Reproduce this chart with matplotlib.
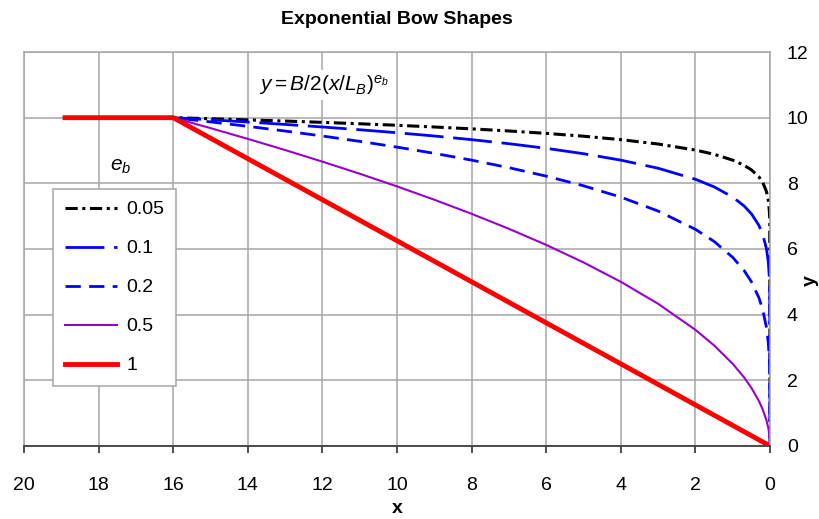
import matplotlib
matplotlib.use("Agg")
import matplotlib.pyplot as plt

plt.rcParams["font.family"] = ["Liberation Sans", "DejaVu Sans"]
plt.rcParams["mathtext.fontset"] = "custom"
plt.rcParams["mathtext.rm"] = "Liberation Sans"
plt.rcParams["mathtext.it"] = "Liberation Sans:italic"

# x positions (same for every curve)
x = [18.9, 16, 15, 14, 13, 12, 11, 10, 9, 8, 7, 6, 5, 4, 3, 2, 1.5, 1,
     0.7, 0.5, 0.3, 0.2, 0.1, 0.05, 0.02, 0.01, 0]

# y values for each exponent e_b
y_005 = [10, 10, 9.968, 9.933, 9.897, 9.857, 9.814, 9.768, 9.716, 9.659,
         9.595, 9.521, 9.435, 9.330, 9.197, 9.013, 8.884, 8.706, 8.552,
         8.409, 8.197, 8.032, 7.759, 7.495, 7.159, 6.915, 0]
y_01 = [10, 10, 9.936, 9.867, 9.794, 9.716, 9.632, 9.541, 9.441, 9.330,
        9.207, 9.066, 8.902, 8.706, 8.459, 8.123, 7.892, 7.579, 7.313,
        7.071, 6.719, 6.452, 6.020, 5.617, 5.125, 4.782, 0]
y_02 = [10, 10, 9.872, 9.736, 9.593, 9.441, 9.278, 9.103, 8.913, 8.706,
        8.476, 8.219, 7.925, 7.579, 7.155, 6.598, 6.229, 5.743, 5.348,
        5.000, 4.514, 4.163, 3.624, 3.155, 2.627, 2.287, 0]
y_05 = [10, 10, 9.682, 9.354, 9.014, 8.660, 8.292, 7.906, 7.5, 7.071,
        6.614, 6.124, 5.590, 5.0, 4.330, 3.536, 3.062, 2.5, 2.092,
        1.768, 1.369, 1.118, 0.791, 0.559, 0.354, 0.25, 0]
y_1 = [10, 10, 9.375, 8.75, 8.125, 7.5, 6.875, 6.25, 5.625, 5.0,
       4.375, 3.75, 3.125, 2.5, 1.875, 1.25, 0.9375, 0.625, 0.4375,
       0.3125, 0.1875, 0.125, 0.0625, 0.031, 0.0125, 0.006, 0]

labels = ["0.05", "0.1", "0.2", "0.5", "1"]

fig = plt.figure(figsize=(8.19, 5.19), dpi=100)
ax = fig.add_axes([0.0293, 0.1407, 0.911, 0.7591])

ax.plot(x, y_005, color="black", lw=2.2, dashes=(4, 1.5, 1, 1.5), label=labels[0])
ax.plot(x, y_01, color="#0000FF", lw=2, dashes=(14, 3.5), label=labels[1])
ax.plot(x, y_02, color="#0000FF", lw=2, dashes=(5.5, 3), label=labels[2])
ax.plot(x, y_05, color="#9900CC", lw=1.5, label=labels[3])
ax.plot(x, y_1, color="#FF0000", lw=3.5, label=labels[4])

ax.set_xlim(20, 0)
ax.set_ylim(0, 12)
ax.set_xticks(range(20, -1, -2))
ax.set_yticks(range(0, 13, 2))
ax.grid(True, color="#A6A6A6", lw=1.1)
ax.set_axisbelow(True)

for side in ["top", "left", "right"]:
    ax.spines[side].set_color("#A6A6A6")
    ax.spines[side].set_linewidth(1.1)
ax.spines["bottom"].set_color("#404040")
ax.spines["bottom"].set_linewidth(1.3)

ax.yaxis.tick_right()
ax.yaxis.set_label_position("right")
ax.tick_params(axis="x", direction="out", length=5, width=1.3, color="#404040",
               pad=17, labelsize=14)
ax.tick_params(axis="y", length=0, pad=12, labelsize=14)

ax.set_xlabel("x", fontsize=14, fontweight="bold", labelpad=5)
ax.set_ylabel("y", fontsize=14, fontweight="bold")
ax.yaxis.set_label_coords(1.042, 0.42)
ax.set_title("Exponential Bow Shapes", fontsize=14, fontweight="bold", pad=20)

ax.text(11.95, 11.0, r"$y = B/2(x/L_B)^{e_b}$", fontsize=15, ha="center",
        va="center", bbox=dict(facecolor="white", edgecolor="none", pad=2))
ax.text(17.4, 8.5, r"$e_b$", fontsize=15, ha="center", va="center")

leg = ax.legend(loc="upper left", bbox_to_anchor=(0.039, 0.652), borderaxespad=0,
                fontsize=14, handlelength=2.7, handletextpad=0.45,
                labelspacing=1.1, borderpad=0.6,
                fancybox=False, framealpha=1)
leg.get_frame().set_edgecolor("#A6A6A6")
leg.get_frame().set_linewidth(1.1)

fig.savefig("out.png", dpi=100)
